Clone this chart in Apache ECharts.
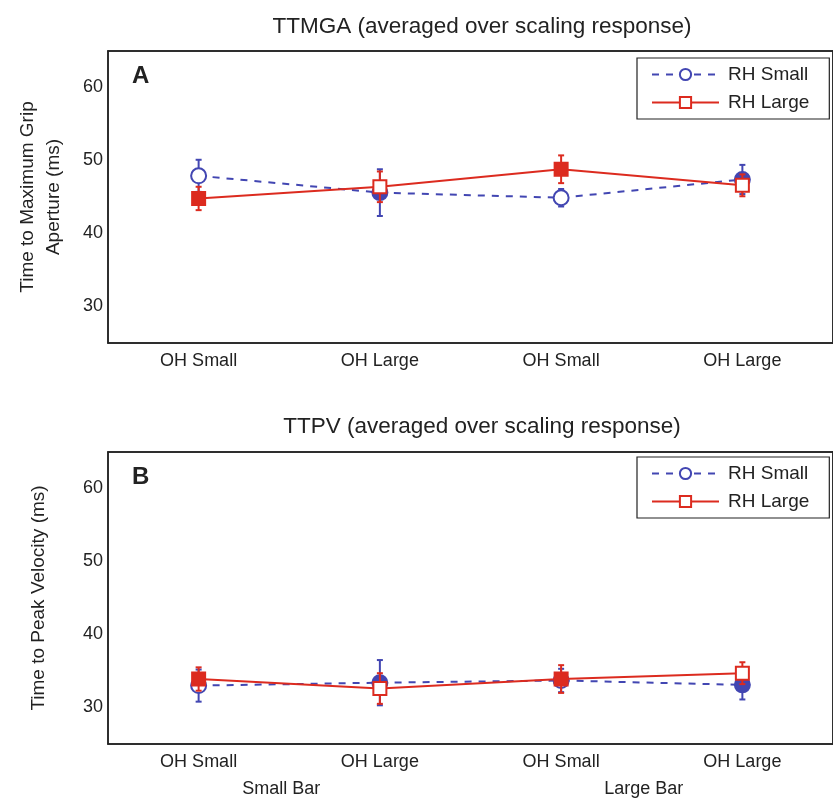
<!DOCTYPE html>
<html><head><meta charset="utf-8">
<script src="https://cdn.jsdelivr.net/npm/echarts@6/dist/echarts.min.js"></script>
<style>html,body{margin:0;padding:0;background:#fff}#c{width:833px;height:799px}</style>
</head><body><div id="c"></div>
<script>
// ---- data ----
const categories = ['OH Small', 'OH Large', 'OH Small', 'OH Large'];
const groupLabels = ['Small Bar', 'Large Bar'];
const yTicks = [30, 40, 50, 60];
// Panel A: TTMGA
const aSmallMean = [47.9, 45.6, 44.9, 47.4];
const aSmallErr  = [2.2, 3.2, 1.2, 2.0];
const aLargeMean = [44.8, 46.4, 48.8, 46.6];
const aLargeErr  = [1.6, 2.1, 1.9, 1.5];
// Panel B: TTPV
const bSmallMean = [33.0, 33.4, 33.7, 33.1];
const bSmallErr  = [2.2, 3.1, 1.6, 2.0];
const bLargeMean = [33.9, 32.6, 33.9, 34.7];
const bLargeErr  = [1.6, 2.1, 1.9, 1.5];
// congruent (open) markers: true = open
const smallOpen = [true, false, true, false];
const largeOpen = [false, true, false, true];

const BLUE = '#4246B2', RED = '#DC2B1F', INK = '#222';
const FONT = '"Liberation Sans", Arial, sans-serif';

const chart = echarts.init(document.getElementById('c'), null, {renderer: 'canvas'});

function grids() {
  return [
    {left: 108, right: -11, top: 51, height: 292, show: true, borderColor: INK, borderWidth: 1.5},
    {left: 108, right: -11, top: 452, height: 292, show: true, borderColor: INK, borderWidth: 1.5}
  ];
}
function xAxes() {
  const out = [];
  [0, 1].forEach(g => {
    out.push({type: 'category', gridIndex: g, data: categories, position: 'bottom',
      axisLine: {lineStyle: {color: INK, width: 1.5}},
      axisTick: {inside: true, alignWithLabel: true, length: 5, lineStyle: {color: INK}},
      axisLabel: {color: INK, fontSize: 18, fontFamily: FONT, margin: 9}});
    out.push({type: 'category', gridIndex: g, data: categories, position: 'top',
      axisLine: {lineStyle: {color: INK, width: 1.5}},
      axisTick: {inside: true, alignWithLabel: true, length: 5, lineStyle: {color: INK}},
      axisLabel: {show: false}});
  });
  out.push({type: 'category', gridIndex: 1, data: groupLabels, position: 'bottom', offset: 27,
    axisLine: {show: false}, axisTick: {show: false},
    axisLabel: {color: INK, fontSize: 18, fontFamily: FONT, margin: 9, padding: [0, 16, 0, 0]}});
  return out;
}
function yAxes() {
  const names = ['Time to Maximum Grip\nAperture (ms)', 'Time to Peak Velocity (ms)'];
  const gaps = [41, 56];
  const out = [];
  [0, 1].forEach(g => {
    out.push({type: 'value', gridIndex: g, min: 25, max: 65, interval: 5,
      name: names[g], nameLocation: 'middle', nameGap: gaps[g], nameRotate: 90,
      nameTextStyle: {color: INK, fontSize: 19, fontFamily: FONT, lineHeight: 26},
      axisLine: {show: true, lineStyle: {color: INK, width: 1.5}},
      axisTick: {inside: true, length: 5, lineStyle: {color: INK},
        customValues: yTicks},
      axisLabel: {color: INK, fontSize: 18, fontFamily: FONT, margin: 5,
        customValues: yTicks,
        formatter: v => yTicks.includes(v) ? String(v) : ''},
      splitLine: {show: false}});
    out.push({type: 'value', gridIndex: g, min: 25, max: 65, interval: 5, position: 'right',
      axisLine: {show: true, lineStyle: {color: INK, width: 1.5}},
      axisTick: {inside: true, length: 5, lineStyle: {color: INK}, customValues: yTicks},
      axisLabel: {show: false}, splitLine: {show: false}});
  });
  return out;
}

function pts(means, open, color) {
  return means.map((v, i) => open[i] ? v : {value: v, itemStyle: {color: color}});
}
function lineSeries(name, means, open, color, dashed, symbol, xi, yi, z) {
  return {type: 'line', name: name, xAxisIndex: xi, yAxisIndex: yi, z: z,
    data: pts(means, open, color), symbol: symbol, symbolSize: symbol === 'circle' ? 15 : 13,
    lineStyle: {color: color, width: 2, type: dashed ? [7, 7] : 'solid'},
    itemStyle: {color: '#fff', borderColor: color, borderWidth: 2},
    emphasis: {disabled: true}, animation: false};
}
function errSeries(means, errs, color, xi, yi, z) {
  return {type: 'custom', xAxisIndex: xi, yAxisIndex: yi, z: z, silent: true, animation: false,
    data: means.map((m, i) => [i, m - errs[i], m + errs[i]]),
    renderItem: (params, api) => {
      const lo = api.coord([api.value(0), api.value(1)]);
      const hi = api.coord([api.value(0), api.value(2)]);
      const st = {stroke: color, lineWidth: 2};
      const w = 3;
      return {type: 'group', children: [
        {type: 'line', shape: {x1: lo[0], y1: lo[1], x2: hi[0], y2: hi[1]}, style: st},
        {type: 'line', shape: {x1: lo[0] - w, y1: lo[1], x2: lo[0] + w, y2: lo[1]}, style: st},
        {type: 'line', shape: {x1: hi[0] - w, y1: hi[1], x2: hi[0] + w, y2: hi[1]}, style: st}
      ]};
    }};
}

const legendBase = {orient: 'vertical', left: 637, itemWidth: 67, itemHeight: 14, itemGap: 9,
  padding: [7, 20, 7, 14], backgroundColor: '#fff', borderColor: INK, borderWidth: 1.2,
  textStyle: {color: INK, fontSize: 19, fontFamily: FONT, padding: [0, 0, 0, 4]},
  selectedMode: false, data: ['RH Small', 'RH Large']};

chart.setOption({
  animation: false,
  title: [
    {text: 'TTMGA (averaged over scaling response)', left: 477, top: 10, textAlign: 'center',
      textStyle: {color: INK, fontSize: 22.5, fontWeight: 'normal', fontFamily: FONT}},
    {text: 'TTPV (averaged over scaling response)', left: 477, top: 410, textAlign: 'center',
      textStyle: {color: INK, fontSize: 22.5, fontWeight: 'normal', fontFamily: FONT}},
    {text: 'A', left: 132, top: 64, padding: 0,
      textStyle: {color: INK, fontSize: 24, fontWeight: 'bold', fontFamily: FONT}},
    {text: 'B', left: 132, top: 465, padding: 0,
      textStyle: {color: INK, fontSize: 24, fontWeight: 'bold', fontFamily: FONT}}
  ],
  legend: [
    Object.assign({}, legendBase, {top: 58}),
    Object.assign({}, legendBase, {top: 457})
  ],
  grid: grids(),
  xAxis: xAxes(),
  yAxis: yAxes(),
  series: [
    errSeries(aSmallMean, aSmallErr, BLUE, 0, 0, 1),
    lineSeries('RH Small', aSmallMean, smallOpen, BLUE, true, 'circle', 0, 0, 2),
    errSeries(aLargeMean, aLargeErr, RED, 0, 0, 3),
    lineSeries('RH Large', aLargeMean, largeOpen, RED, false, 'rect', 0, 0, 4),
    errSeries(bSmallMean, bSmallErr, BLUE, 2, 2, 1),
    lineSeries('RH Small', bSmallMean, smallOpen, BLUE, true, 'circle', 2, 2, 2),
    errSeries(bLargeMean, bLargeErr, RED, 2, 2, 3),
    lineSeries('RH Large', bLargeMean, largeOpen, RED, false, 'rect', 2, 2, 4)
  ]
});
</script></body></html>
